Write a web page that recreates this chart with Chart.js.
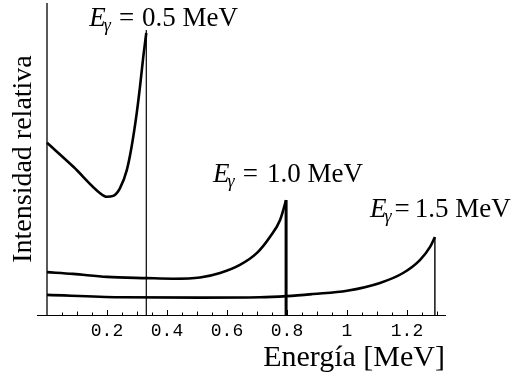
<!DOCTYPE html>
<html>
<head>
<meta charset="utf-8">
<script src="https://cdn.jsdelivr.net/npm/chart.js@4"></script>
<style>
  html, body { margin: 0; padding: 0; background: #fff; }
</style>
</head>
<body>
<canvas id="c" width="522" height="380"></canvas>
<script>
// Compton continuum: relative intensity vs. recoil electron energy (MeV)
// for three incident photon energies.

// E_gamma = 0.5 MeV
const energy05 = [0, 0.088, 0.177, 0.199, 0.221, 0.243, 0.266, 0.282, 0.299, 0.310, 0.321, 0.331];
const inten05  = [57.4, 49.4, 40.6, 39.4, 39.7, 42.2, 48.3, 56.1, 67.2, 76.1, 86.1, 94.0];

// E_gamma = 1.0 MeV
const energy10 = [0, 0.087, 0.200, 0.333, 0.420, 0.510, 0.577, 0.643, 0.700, 0.743, 0.777, 0.797];
const inten10  = [14.3, 13.7, 12.7, 12.3, 12.1, 12.5, 14.0, 16.7, 20.7, 26.0, 31.7, 38.3];

// E_gamma = 1.5 MeV
const energy15 = [0, 0.243, 0.510, 0.710, 0.800, 0.887, 1.000, 1.110, 1.187, 1.243, 1.277, 1.293];
const inten15  = [6.7, 5.9, 5.8, 5.9, 6.3, 7.0, 8.1, 10.7, 14.0, 18.3, 22.7, 26.0];

// Compton edges (energy, height of the marker line)
const edgeEnergy = [0.331, 0.797, 1.293];
const edgeTop    = [95.0, 38.3, 26.0];

// Incident photon energies shown in the annotations
const photonLabels = ['0.5', '1.0', '1.5'];

// x-axis labelled ticks
const tickValues = [0.2, 0.4, 0.6, 0.8, 1.0, 1.2];
const tickLabels = ['0.2', '0.4', '0.6', '0.8', '1', '1.2'];

const toPoints = (xs, ys) => xs.map((x, i) => ({ x: x, y: ys[i] }));
const edgeLine = i => [{ x: edgeEnergy[i], y: 0 }, { x: edgeEnergy[i], y: edgeTop[i] }];

const curveStyle = {
  borderColor: '#000', borderWidth: 2.6, pointRadius: 0,
  cubicInterpolationMode: 'monotone', fill: false
};
const edgeStyle = w => ({ borderColor: '#000', borderWidth: w, pointRadius: 0, fill: false, tension: 0 });

// Inward tick marks along the energy axis (every 0.05 MeV)
const innerTicks = {
  id: 'innerTicks',
  afterDatasetsDraw(chart) {
    const { ctx, scales: { x, y } } = chart;
    const y0 = y.getPixelForValue(0);
    ctx.save();
    ctx.strokeStyle = '#000';
    ctx.lineWidth = 1;
    for (let k = 1; k <= 26; k++) {
      const v = k * 0.05;
      const px = Math.round(x.getPixelForValue(v)) + 0.5;
      const len = (k % 4 === 0) ? 5 : (k % 2 === 0 ? 3.5 : 2.5);
      ctx.beginPath();
      ctx.moveTo(px, y0);
      ctx.lineTo(px, y0 - len);
      ctx.stroke();
    }
    ctx.restore();
  }
};

// "E_gamma = ... MeV" annotations placed next to each Compton edge
const edgeNotes = {
  id: 'edgeNotes',
  afterDatasetsDraw(chart) {
    const { ctx, scales: { x, y } } = chart;
    const offsets = [[-57, -4], [-73, -18], [-65, -20]];
    const gaps = [[8, 8], [8, 9], [3, 5]];
    ctx.save();
    ctx.fillStyle = '#000';
    ctx.textBaseline = 'alphabetic';
    photonLabels.forEach((lab, i) => {
      let cx = x.getPixelForValue(edgeEnergy[i]) + offsets[i][0];
      const by = y.getPixelForValue(edgeTop[i]) + offsets[i][1];
      ctx.font = 'italic 27px "Liberation Serif"';
      ctx.fillText('E', cx, by);
      cx += ctx.measureText('E').width - 2;
      ctx.font = 'italic 18px "Liberation Serif"';
      ctx.fillText('\u03B3', cx, by + 5);
      cx += ctx.measureText('\u03B3').width + gaps[i][0];
      ctx.font = '27px "Liberation Serif"';
      ctx.fillText('=', cx, by);
      cx += ctx.measureText('=').width + gaps[i][1];
      ctx.fillText(lab + ' MeV', cx, by);
    });
    ctx.restore();
  }
};

new Chart(document.getElementById('c'), {
  type: 'line',
  data: {
    datasets: [
      { data: [{ x: 0, y: 0 }, { x: 0, y: 104 }], ...edgeStyle(1.3) },
      { data: toPoints(energy05, inten05), ...curveStyle },
      { data: edgeLine(0), ...edgeStyle(1.2) },
      { data: toPoints(energy10, inten10), ...curveStyle },
      { data: edgeLine(1), ...edgeStyle(3) },
      { data: toPoints(energy15, inten15), ...curveStyle },
      { data: edgeLine(2), ...edgeStyle(1.4) }
    ]
  },
  options: {
    responsive: false,
    animation: false,
    parsing: false,
    layout: { autoPadding: false, padding: { left: 10, right: 77, top: 3, bottom: 4 } },
    plugins: { legend: { display: false }, tooltip: { enabled: false } },
    scales: {
      x: {
        type: 'linear', min: -1 / 30, max: 1.3267,
        afterFit: s => { s.height = 61; },
        grid: { display: true, drawOnChartArea: false, drawTicks: false },
        border: { display: true, color: '#000', width: 1 },
        afterBuildTicks: s => { s.ticks = tickValues.map(v => ({ value: v })); },
        ticks: {
          autoSkip: false, maxRotation: 0, padding: 5, color: '#000',
          font: { family: '"Liberation Mono"', size: 18 },
          callback: (v, i) => tickLabels[i]
        },
        title: {
          display: true, text: 'Energía [MeV]', align: 'end', color: '#000',
          font: { family: '"Liberation Serif"', size: 30, lineHeight: 1.2 },
          padding: { top: 0, bottom: 0 }
        }
      },
      y: {
        type: 'linear', min: 0, max: 104,
        afterFit: s => { s.width = 27; },
        grid: { display: false },
        border: { display: false },
        ticks: { display: false },
        title: {
          display: true, text: 'Intensidad relativa', color: '#000',
          font: { family: '"Liberation Serif"', size: 28, lineHeight: 1.0 },
          padding: { top: 0, bottom: 0 }
        }
      }
    }
  },
  plugins: [innerTicks, edgeNotes]
});
</script>
</body>
</html>
